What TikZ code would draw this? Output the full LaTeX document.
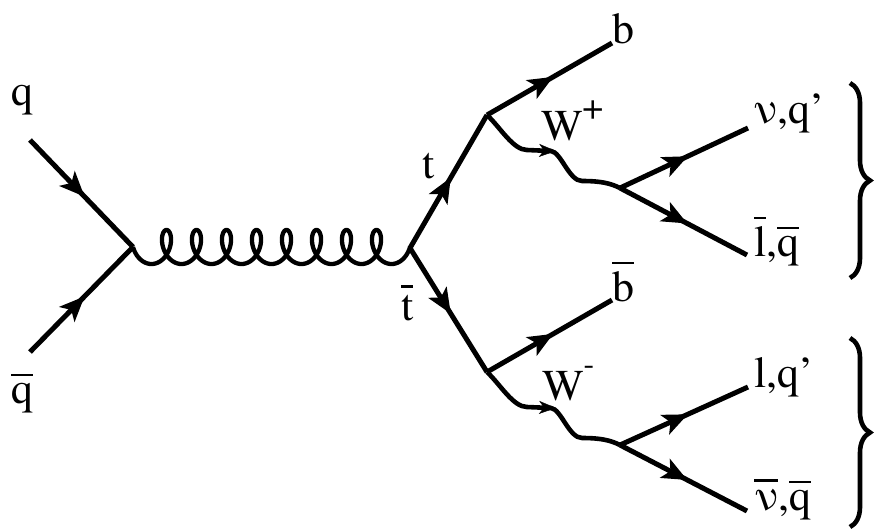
\documentclass[tikz,border=0pt]{standalone}
\usepackage{fontspec}
\setmainfont{texgyretermes-regular.otf}
\newfontfamily\labfont{texgyretermes-regular.otf}
\usetikzlibrary{arrows.meta,decorations.markings,decorations.pathreplacing,calc}
\newcommand\ovl[1]{\vbox{\hrule height 2.2pt\kern 7pt\hbox{#1}}}
\begin{document}
\begin{tikzpicture}[x=1pt,y=-1pt,
  fermion/.style={line width=5pt, postaction={decorate},
    decoration={markings, mark=at position 0.53 with {\arrow{Stealth[length=25pt,width=21pt,inset=6pt]}}}},
  gluon/.style={line width=4.3pt},
  wline/.style={line width=4.6pt, line join=round},
  warrow/.style={decorate, decoration={markings, mark=at position 1 with {\arrow{Stealth[length=17pt,width=13pt,inset=5pt]}}}},
  lab/.style={font=\labfont\fontsize{44}{50}\selectfont, inner sep=0pt, anchor=base west},
  bracestyle/.style={line width=4.6pt, decorate, decoration={brace, amplitude=20pt}}]
\useasboundingbox (0,0) rectangle (877,531);
% vertices and end points
\coordinate (qin) at (30,140);
\coordinate (qbin) at (30,352);
\coordinate (v1) at (133,247);
\coordinate (v2) at (410,248);
\coordinate (v3) at (487,115);
\coordinate (v5) at (487,372);
\coordinate (v4) at ($(v3)+(133,73)$);
\coordinate (v6) at ($(v5)+(133,73)$);
\coordinate (bend) at (612,43);
\coordinate (bbend) at (612,300);
\coordinate (nuend) at (748,128);
\coordinate (lbend) at (747,255);
\coordinate (lend) at (748,387);
\coordinate (nubend) at (747,511);
\coordinate (br1t) at (850,83);
\coordinate (br1b) at (850,278);
\coordinate (br2t) at (850,338);
\coordinate (br2b) at (850,527);
% incoming quarks
\draw[fermion] (qin) -- (v1);
\draw[fermion] (qbin) -- (v1);
% gluon
\draw[gluon, shift={(v1)}] plot[domain=-pi/2:16.5*pi, samples=700]
  ({30*(\x+pi/2)/(2*pi)+11*(sin(\x r)+1)}, {17*cos(\x r)});
% tops
\draw[fermion] (v2) -- (v3);
\draw[fermion] (v2) -- (v5);
% b quarks
\draw[fermion] (v3) -- (bend);
\draw[fermion] (v5) -- (bbend);
% W bosons
\foreach \s/\e in {v3/v4, v5/v6} {
  \draw[wline] (\s) .. controls ($(\s)+(13,12)$) and ($(\s)+(26,35)$) .. ($(\s)+(40,35)$)
    -- ($(\s)+(64,36)$) .. controls ($(\s)+(74,37)$) and ($(\s)+(82,66)$) .. ($(\s)+(95,66)$)
    .. controls ($(\s)+(113,66)$) and ($(\s)+(123,68)$) .. (\e);
  \path[warrow] ($(\s)+(40,35)$) -- ($(\s)+(69,36)$);
}
% W decay products
\draw[fermion] (v4) -- (nuend);
\draw[fermion] (v4) -- (lbend);
\draw[fermion] (v6) -- (lend);
\draw[fermion] (v6) -- (nubend);
% labels
\node[lab] (lq) at (11,105) {q};
\node[lab] (lqb) at (11,403) {\ovl{q}};
\node[lab] (lt) at (422,178) {t};
\node[lab] (ltb) at (401,320) {\ovl{t}};
\node[lab] (lb) at (612,43) {b};
\node[lab] (lbb) at (612,301) {\ovl{b}};
\node[lab] (lwp) at (541,140) {W\raisebox{21pt}{\labfont\fontsize{38}{38}\selectfont +}};
\node[lab] (lwm) at (542,400) {W\raisebox{26pt}{\labfont\fontsize{32}{32}\selectfont -}};
\node[lab] (lnu) at (753,123) {ν,q’};
\node[lab] (llb) at (754,256) {\ovl{l},\ovl{q}};
\node[lab] (ll) at (754,387) {l,q’};
\node[lab] (lnub) at (754,510) {\ovl{ν},\ovl{q}};
% braces
\draw[bracestyle] (br1t) -- (br1b);
\draw[bracestyle] (br2t) -- (br2b);
\end{tikzpicture}
\end{document}
